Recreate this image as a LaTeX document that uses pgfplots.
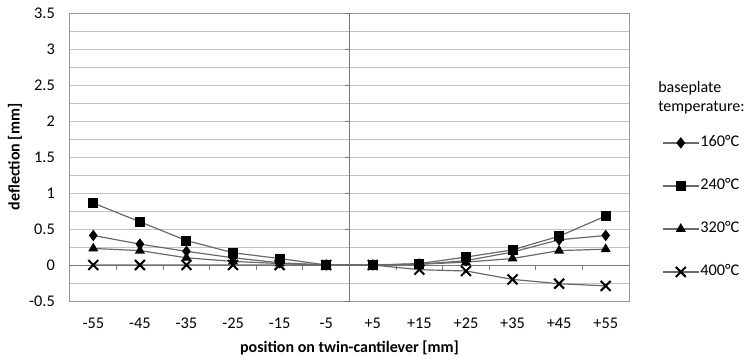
\documentclass[border=0pt]{standalone}
\usepackage{fontspec}
\setmainfont{Carlito}
\usepackage{pgfplots}
\pgfplotsset{compat=1.18}
\definecolor{gridc}{RGB}{195,195,195}
\definecolor{linec}{RGB}{105,105,105}
\definecolor{framec}{RGB}{150,150,150}
\definecolor{axc}{RGB}{120,120,120}
\begin{document}
\begin{tikzpicture}
\begin{axis}[
  scale only axis, width=559bp, height=288bp,
  xmin=-0.5, xmax=11.5, ymin=-0.5, ymax=3.5,
  xtick={0,...,11},
  xticklabels={-55,-45,-35,-25,-15,-5,+5,+15,+25,+35,+45,+55},
  ytick={-0.5,0,0.5,1,1.5,2,2.5,3,3.5},
  yticklabels={-0.5,0,0.5,1,1.5,2,2.5,3,3.5},
  minor ytick={-0.25,0.25,0.75,1.25,1.75,2.25,2.75,3.25},
  ymajorgrids, yminorgrids,
  major grid style={gridc, line width=1bp},
  minor grid style={gridc, line width=1bp},
  axis line style={framec, line width=1bp},
  major tick length=0pt, minor tick length=0pt,
  tick label style={font=\fontsize{16.3bp}{19bp}\selectfont, inner sep=0pt},
  xticklabel style={anchor=center, yshift=-22bp},
  yticklabel style={anchor=east, xshift=-15bp},
  xlabel={\textbf{position on twin-cantilever [mm]}},
  ylabel={\textbf{deflection [mm]}},
  label style={font=\fontsize{16bp}{19bp}\selectfont},
  xlabel style={at={(axis description cs:0.5,-0.163)}, anchor=center},
  ylabel style={at={(axis description cs:-0.0984,0.5)}, anchor=center},
  clip=false,
  cycle list={{linec, line width=1.2bp, mark options={black, fill=black, solid}}},
  legend image code/.code={\draw[mark repeat=2,mark phase=2,#1] plot coordinates {(0bp,0bp) (18bp,0bp) (36bp,0bp)};},
  legend cell align=left,
  legend style={draw=none, fill=none, inner sep=0pt, at={(1.059,0.325)}, anchor=west,
    font=\fontsize{16.3bp}{19bp}\selectfont,
    nodes={inner sep=1bp, text height=11bp, text depth=3bp},
    row sep=27bp},
]
% horizontal axis line at zero and category tick marks
\draw[axc, line width=1bp] (axis cs:-0.5,0) -- (axis cs:11.5,0);
\pgfplotsinvokeforeach{0.5,1.5,2.5,3.5,4.5,6.5,7.5,8.5,9.5,10.5}{
  \draw[axc, line width=1bp] (axis cs:#1,0) -- ++(0pt,-5bp);
}
% vertical axis in the middle
\draw[axc, line width=1bp] (axis cs:5.5,-0.5) -- (axis cs:5.5,3.5);
\pgfplotsinvokeforeach{-0.5,0,0.5,1,1.5,2,2.5,3,3.5}{
  \draw[axc, line width=1bp] (axis cs:5.5,#1) -- ++(-5bp,0pt);
}
\addplot[linec, line width=1.2bp, mark=diamond*, mark size=4.8bp, mark options={black, fill=black, solid}] coordinates {
 (0,0.41) (1,0.29) (2,0.19) (3,0.10) (4,0.03) (5,0) (6,0) (7,0.01) (8,0.06) (9,0.18) (10,0.35) (11,0.41)};
\addlegendentry{160°C}
\addplot[linec, line width=1.2bp, mark=square*, mark size=4.4bp, mark options={black, fill=black, solid}] coordinates {
 (0,0.86) (1,0.60) (2,0.34) (3,0.17) (4,0.09) (5,0) (6,0) (7,0.02) (8,0.11) (9,0.21) (10,0.40) (11,0.68)};
\addlegendentry{240°C}
\addplot[linec, line width=1.2bp, mark=triangle*, mark size=4.6bp, mark options={black, fill=black, solid}] coordinates {
 (0,0.23) (1,0.20) (2,0.10) (3,0.05) (4,0.02) (5,0) (6,0) (7,0.01) (8,0.04) (9,0.09) (10,0.20) (11,0.22)};
\addlegendentry{320°C}
\addplot[linec, line width=1.2bp, mark=x, mark size=7bp, mark options={black, solid, line width=2bp}] coordinates {
 (0,0) (1,0) (2,0) (3,0) (4,0) (5,0) (6,0) (7,-0.065) (8,-0.083) (9,-0.20) (10,-0.26) (11,-0.29)};
\addlegendentry{400°C}
\node[anchor=west, font=\fontsize{16bp}{19bp}\selectfont, align=left, inner sep=0pt]
  at (axis description cs:1.052,0.707) {baseplate\\temperature:};
\path (axis description cs:0,0) ++(-70bp,-57bp) coordinate (bbsw);
\path (axis description cs:0,0) ++(675bp,301bp) coordinate (bbne);
\pgfresetboundingbox
\path[use as bounding box] (bbsw) rectangle (bbne);
\end{axis}
\end{tikzpicture}
\end{document}
